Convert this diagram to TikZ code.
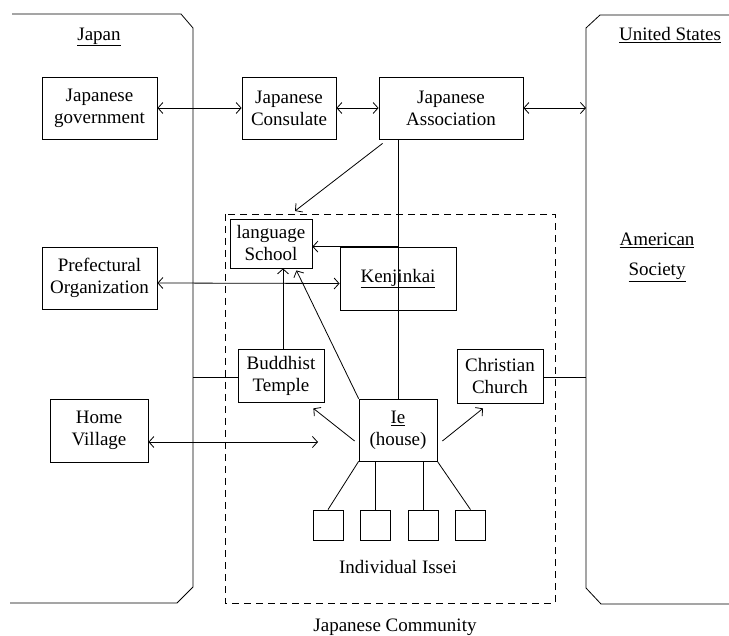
\documentclass[tikz,border=0pt]{standalone}
\usepackage{fontspec}
\setmainfont{Liberation Serif}
\usetikzlibrary{arrows.meta}
\tikzset{
  box/.style={draw, line width=0.8pt, align=center, inner sep=0pt},
  link/.style={line width=0.8pt},
  twoway/.style={link, {Straight Barb[length=5pt,width=11pt]}-{Straight Barb[length=5pt,width=11pt]}},
  oneway/.style={link, -{Straight Barb[length=5pt,width=11pt]}},
  issei/.style={box, minimum width=30pt, minimum height=30pt}
}
\begin{document}
\begin{tikzpicture}[x=1pt,y=-1pt,font=\fontsize{19}{22}\selectfont]
\useasboundingbox (0,0) rectangle (729,636);
% Japan and United States frames
\draw[link] (12,14) -- (181,14) -- (193,28) -- (193,587) -- (177,603) -- (10,603);
\draw[link] (729,15) -- (600,15) -- (586,28) -- (586,588) -- (601,604) -- (729,604);
\node (japan) at (99,37) {\underline{Japan}};
\node (us) at (670,35) {\underline{United States}};
\node[anchor=base] (american) at (657,246) {\underline{American}};
\node[anchor=base] (society) at (657,276) {\underline{Society}};

% Japanese community
\draw[link, dash pattern=on 7pt off 5pt] (225,214) rectangle (555,603);
\node (commu) at (395,627) {Japanese Community};

% Boxes, top row
\node[box, minimum width=115pt, minimum height=62pt] (gov) at (99.5,108) {Japanese\\government};
\node[box, minimum width=94pt, minimum height=62pt] (cons) at (289,108) {Japanese\\Consulate};
\node[box, minimum width=144pt, minimum height=62pt] (assoc) at (451,108) {Japanese\\Association};

% Boxes, Japan side
\node[box, minimum width=115pt, minimum height=62pt] (pref) at (99.5,278) {Prefectural\\Organization};
\node[box, minimum width=98pt, minimum height=63pt] (home) at (99,430.5) {Home\\Village};

% Boxes inside the community
\node[box, minimum width=82pt, minimum height=49pt] (lang) at (271,243.5) {language\\School};
\node[box, minimum width=116pt, minimum height=63pt] (ken) at (398,278.5) {\underline{Kenjinkai}};
\node[box, minimum width=86pt, minimum height=53pt] (temple) at (281,375.5) {Buddhist\\Temple};
\node[box, minimum width=86pt, minimum height=54pt] (church) at (500,376) {Christian\\Church};
\node[box, minimum width=78pt, minimum height=62pt] (ie) at (398,430) {\underline{Ie}\\(house)};
\node[issei] (i1) at (328,525) {};
\node[issei] (i2) at (375.5,525) {};
\node[issei] (i3) at (423,525) {};
\node[issei] (i4) at (470.5,525) {};
\node (indiv) at (398,567) {Individual Issei};

% Free ends
\coordinate (usgov) at (586,108);
\coordinate (uschurch) at (586,377);
\coordinate (jptemple) at (193,377);
\coordinate (assocend) at (295,211);
\coordinate (homeend) at (318,442);

% Connectors
\draw[twoway] (gov) -- (cons);
\draw[twoway] (cons) -- (assoc);
\draw[twoway] (assoc.east) -- (usgov);
\draw[oneway] ([xshift=4pt,yshift=-4pt]assoc.south west) -- (assocend);
\draw[link] (ken.north |- assoc.south) -- (ie.north);
\draw[oneway] (ken.north) -- (ken.north -| lang.east);
\draw[twoway] ([yshift=-5pt]pref.east) -- ([yshift=-5pt]ken.west);
\draw[oneway] ([xshift=2pt]temple.north) -- ([xshift=2pt]temple.north |- lang.south);
\draw[link] (jptemple) -- (temple.west |- jptemple);
\draw[oneway] (ie.north west) -- ([xshift=-16pt,yshift=-2pt]lang.south east);
\draw[oneway] ([xshift=-4pt,yshift=-11pt]ie.west) -- ([xshift=-11pt,yshift=-6pt]temple.south east);
\draw[oneway] ([xshift=5pt,yshift=-11pt]ie.east) -- ([xshift=-17pt,yshift=-5pt]church.south);
\draw[twoway] (home.east |- homeend) -- (homeend);
\draw[link] (church.east |- uschurch) -- (uschurch);
\draw[link] (ie.south west) -- (i1.north);
\draw[link] (i2.north |- ie.south) -- (i2.north);
\draw[link] (i3.north |- ie.south) -- (i3.north);
\draw[link] (ie.south east) -- (i4.north);
\end{tikzpicture}
\end{document}
